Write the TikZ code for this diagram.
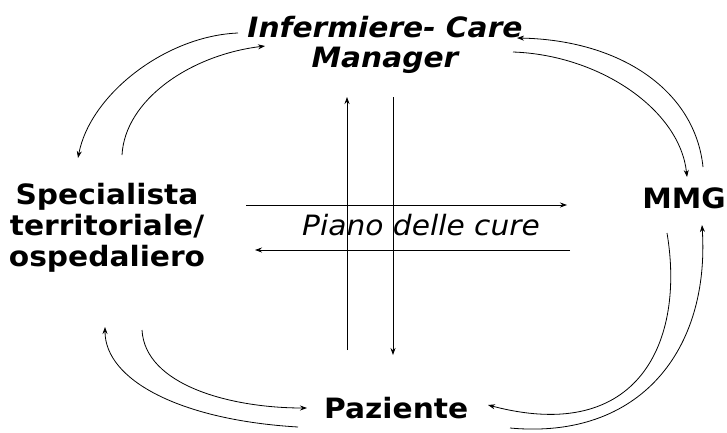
\documentclass[tikz,border=0pt]{standalone}
\usepackage{fontspec}
\setmainfont{DejaVu Sans}[FakeStretch=1.06]
\usetikzlibrary{arrows.meta}
\begin{document}
\begin{tikzpicture}[x=1pt,y=-1pt,
  lbl/.style={inner sep=0pt,font=\fontsize{28}{31}\selectfont\bfseries},
  conn/.style={line width=0.8pt,-{Stealth[length=7pt,width=5pt]}},
  flow/.style={line width=0.8pt,-{Stealth[length=7pt,width=5pt]}}]
\useasboundingbox (0,0) rectangle (727,432);
% nodes
\node[lbl,align=center,anchor=north,font=\fontsize{28}{30}\selectfont\bfseries\itshape] (inf) at (385,16.5) {Infermiere- Care\\Manager};
\node[lbl,align=center,anchor=north] (spec) at (107,183) {Specialista\\territoriale/\\ospedaliero};
\node[lbl,anchor=base east] (mmg) at (726,208) {MMG};
\node[lbl,anchor=base west] (paz) at (324,418) {Paziente};
\node[inner sep=0pt,anchor=base west,font=\fontsize{28}{31}\selectfont\itshape] (piano) at (302,235) {Piano delle cure};
% connector end points
\coordinate (i1) at (238,33);  \coordinate (s1) at (78,158);
\coordinate (s2) at (122,155); \coordinate (i2) at (265,46);
\coordinate (m1) at (703,167); \coordinate (i3) at (517,38);
\coordinate (i4) at (513,52);  \coordinate (m2) at (687,177);
\coordinate (p1) at (298,427); \coordinate (s3) at (105,327);
\coordinate (s4) at (142,330); \coordinate (p2) at (307,408);
\coordinate (m3) at (667,233); \coordinate (p3) at (488,405);
\coordinate (p4) at (510,428); \coordinate (m4) at (702,225);
\coordinate (vu1) at (347,350); \coordinate (vu2) at (347,97);
\coordinate (vd1) at (393,97);  \coordinate (vd2) at (393,355);
\coordinate (hr1) at (246,205); \coordinate (hr2) at (567,205);
\coordinate (hl1) at (570,250); \coordinate (hl2) at (255,250);
% curved connectors
\draw[conn] (i1) .. controls (165,36) and (90,95) .. (s1);
\draw[conn] (s2) .. controls (125,100) and (190,55) .. (i2);
\draw[conn] (m1) .. controls (695,90) and (620,40) .. (i3);
\draw[conn] (i4) .. controls (600,55) and (680,110) .. (m2);
\draw[conn] (p1) .. controls (180,420) and (105,380) .. (s3);
\draw[conn] (s4) .. controls (145,385) and (230,408) .. (p2);
\draw[conn] (m3) .. controls (685,340) and (640,445) .. (p3);
\draw[conn] (p4) .. controls (640,440) and (710,350) .. (m4);
% central cross
\draw[flow] (vu1) -- (vu2);
\draw[flow] (vd1) -- (vd2);
\draw[flow] (hr1) -- (hr2);
\draw[flow] (hl1) -- (hl2);
\end{tikzpicture}
\end{document}
